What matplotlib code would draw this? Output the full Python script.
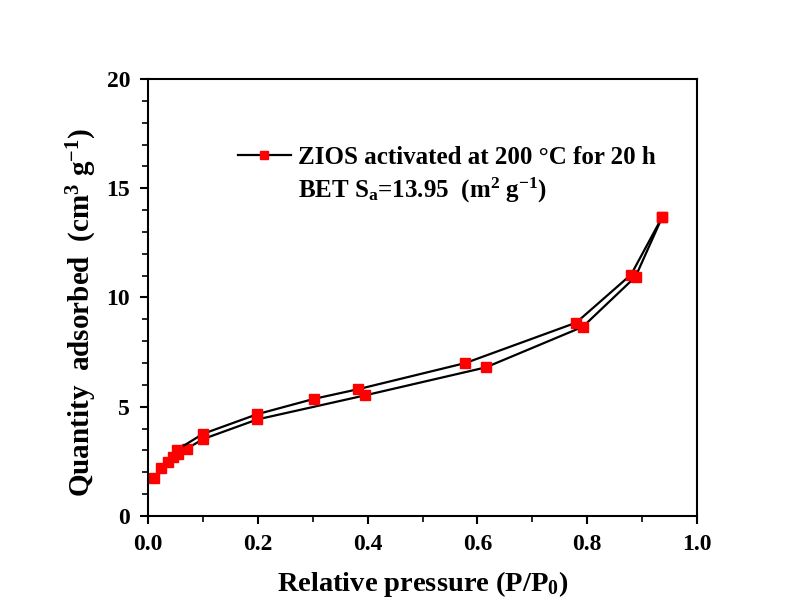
import numpy as np
import matplotlib.pyplot as plt
from matplotlib.ticker import MultipleLocator

plt.rcParams['font.family'] = 'Liberation Serif'
plt.rcParams['font.weight'] = 'bold'
plt.rcParams['mathtext.fontset'] = 'custom'
plt.rcParams['mathtext.rm'] = 'Liberation Serif:bold'
plt.rcParams['mathtext.it'] = 'Liberation Serif:bold'
plt.rcParams['mathtext.bf'] = 'Liberation Serif:bold'

# adsorption branch (lower)
p_ads = [0.010, 0.024, 0.037, 0.045, 0.055, 0.070, 0.100, 0.199, 0.395, 0.615, 0.792, 0.888, 0.937]
q_ads = [1.76, 2.18, 2.48, 2.68, 2.85, 3.07, 3.52, 4.42, 5.52, 6.80, 8.66, 10.95, 13.70]
# desorption branch (upper)
p_des = [0.937, 0.880, 0.780, 0.578, 0.382, 0.302, 0.199, 0.100, 0.052]
q_des = [13.70, 11.05, 8.85, 7.00, 5.80, 5.36, 4.66, 3.76, 3.02]

fig = plt.figure(figsize=(7.88, 6.11), dpi=100)
ax = fig.add_axes([0.188, 0.1555, 0.6965, 0.7152])

ax.plot(p_ads, q_ads, color='black', lw=1.6, marker='s', ms=7,
        mfc='red', mec='red', label='ZIOS activated at 200 \u00b0C for 20 h')
ax.plot(p_des, q_des, color='black', lw=1.6, marker='s', ms=7,
        mfc='red', mec='red')

ax.set_xlim(0, 1.0)
ax.set_ylim(0, 20)
ax.xaxis.set_major_locator(MultipleLocator(0.2))
ax.xaxis.set_minor_locator(MultipleLocator(0.1))
ax.yaxis.set_major_locator(MultipleLocator(5))
ax.yaxis.set_minor_locator(MultipleLocator(1))
ax.xaxis.set_major_formatter(lambda v, pos: '%.1f' % v)
ax.tick_params(which='major', length=6, width=1.5, labelsize=17, direction='out', pad=7)
ax.tick_params(which='minor', length=4, width=1.2, direction='out')
for s in ax.spines.values():
    s.set_linewidth(1.5)

ax.set_xlabel('Relative pressure (P/P$_0$)', fontsize=20.5, fontweight='bold', labelpad=10)
ax.set_ylabel('Quantity  adsorbed  (cm$^3$ g$^{-1}$)', fontsize=21, fontweight='bold')
ax.yaxis.set_label_coords(-0.09, 0.465)

leg = ax.legend(loc='center left', bbox_to_anchor=(0.123, 0.82), frameon=False,
                handlelength=2.1, handletextpad=0.3, markerscale=0.85,
                prop={'family': 'Liberation Serif', 'weight': 'bold', 'size': 18})
ax.text(0.273, 14.9, 'BET S$_a$=13.95  (m$^2$ g$^{-1}$)', fontsize=18,
        fontweight='bold', va='center', ha='left')

fig.savefig('out.png', dpi=100)
